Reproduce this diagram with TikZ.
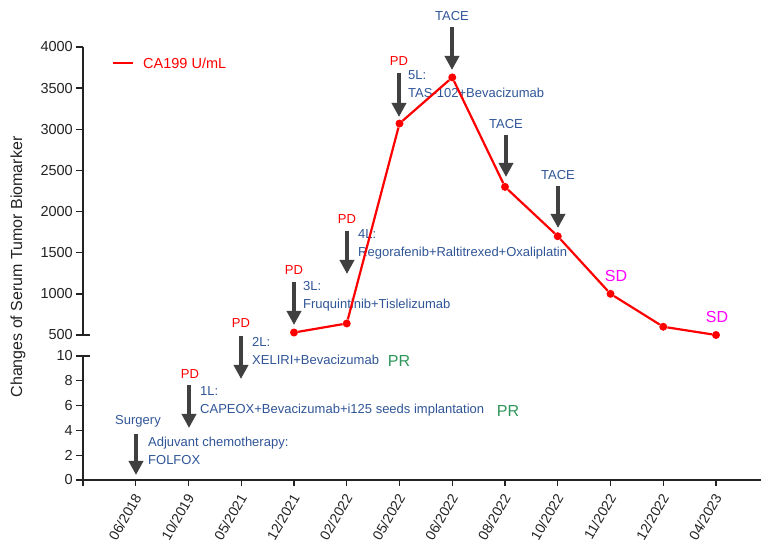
\documentclass[tikz,border=0pt]{standalone}
\usepackage{fontspec}
\setmainfont{Liberation Sans}
\usepackage{xcolor}
\usetikzlibrary{arrows.meta}

\definecolor{txtblue}{RGB}{47,85,151}
\definecolor{prgreen}{RGB}{46,150,90}
\definecolor{sdmag}{RGB}{255,0,255}
\definecolor{arrgray}{RGB}{64,64,64}
\definecolor{axgray}{RGB}{35,35,35}

\begin{document}
\begin{tikzpicture}[x=1pt,y=1pt,
    axisline/.style={axgray,line width=1.3pt},
    ticklbl/.style={font=\fontsize{14.5}{16}\selectfont,anchor=east,inner sep=0pt,text=axgray},
    datelbl/.style={font=\fontsize{14}{16}\selectfont,rotate=60,anchor=east,inner sep=0pt,text=axgray},
    treat/.style={font=\fontsize{13}{18}\selectfont,text=txtblue,align=left,anchor=west,inner sep=0pt},
    pdlbl/.style={font=\fontsize{13}{14}\selectfont,text=red,inner sep=0pt},
    tacelbl/.style={font=\fontsize{13}{14}\selectfont,text=txtblue,inner sep=0pt},
    resp/.style={font=\fontsize{16}{18}\selectfont,inner sep=0pt},
    bigarrow/.style={arrgray,line width=3.5pt,-{Triangle[width=14pt,length=14pt]}},
    dot/.style={circle,fill=red,inner sep=0pt,minimum size=8pt}]
    \useasboundingbox (0,0) rectangle (761,544);

    % axes with break
    \draw[axisline] (83,497)--(83,209);
    \draw[axisline] (76,209)--(90,209);
    \draw[axisline] (76,188)--(90,188);
    \draw[axisline] (83,188)--(83,64)--(761,64);
    \draw[axisline] (83,64)--(83,58);

    \foreach \v in {500,1000,...,4000} {
        \draw[axisline] (76,{209+(\v-500)*0.08229})--(83,{209+(\v-500)*0.08229});
        \node[ticklbl] at (73,{209+(\v-500)*0.08229}) {\v};
    }
    \foreach \v in {0,2,...,10} {
        \draw[axisline] (76,{64+12.4*\v})--(83,{64+12.4*\v});
        \node[ticklbl] at (73,{64+12.4*\v}) {\v};
    }
    \foreach \d [count=\i] in {06/2018,10/2019,05/2021,12/2021,02/2022,05/2022,
                               06/2022,08/2022,10/2022,11/2022,12/2022,04/2023} {
        \draw[axisline] ({83+52.75*\i},64)--({83+52.75*\i},58);
        \node[datelbl] (date\i) at ({85+52.75*\i},49) {\d};
    }

    \node[rotate=90,font=\fontsize{16}{18}\selectfont,text=axgray] (ylab) at (18,277)
        {Changes of Serum Tumor Biomarker};

    % legend
    \node[anchor=west,inner sep=0pt,text=red,font=\fontsize{14.5}{16}\selectfont] (leg) at (143,481) {CA199 U/mL};
    \coordinate (legl) at (113,481);
    \draw[red,line width=1.5pt] (legl)--++(20,0);

    % treatment lines
    \node[tacelbl] (surg) at (138,123) {Surgery};
    \node[treat] (adj) at (148,93.5) {Adjuvant chemotherapy:\\FOLFOX};
    \coordinate (a0s) at (136,110);
    \coordinate (a0e) at (136,69);
    \draw[bigarrow] (a0s)--(a0e);

    \node[pdlbl] (pd1) at (190,170) {PD};
    \node[treat] (l1) at (200,143) {1L:\\CAPEOX+Bevacizumab+i125 seeds implantation};
    \node[resp,text=prgreen] (pr1) at (508,133) {PR};
    \coordinate (a1s) at (189,159);
    \coordinate (a1e) at (189,116);
    \draw[bigarrow] (a1s)--(a1e);

    \node[pdlbl] (pd2) at (241,221) {PD};
    \node[treat] (l2) at (252,193) {2L:\\XELIRI+Bevacizumab};
    \node[resp,text=prgreen] (pr2) at (399,183) {PR};
    \coordinate (a2s) at (241,208);
    \coordinate (a2e) at (241,165);
    \draw[bigarrow] (a2s)--(a2e);

    \node[pdlbl] (pd3) at (294,274) {PD};
    \node[treat] (l3) at (303,247.5) {3L:\\Fruquintinib+Tislelizumab};
    \coordinate (a3s) at (294,262);
    \coordinate (a3e) at (294,219);
    \draw[bigarrow] (a3s)--(a3e);

    \node[pdlbl] (pd4) at (347,325) {PD};
    \node[treat] (l4) at (358,299.5) {4L:\\Regorafenib+Raltitrexed+Oxaliplatin};
    \coordinate (a4s) at (347,313);
    \coordinate (a4e) at (347,270);
    \draw[bigarrow] (a4s)--(a4e);

    \node[pdlbl] (pd5) at (399,483) {PD};
    \node[treat] (l5) at (408,459.5) {5L:\\TAS-102+Bevacizumab};
    \coordinate (a5s) at (399,471);
    \coordinate (a5e) at (399,427);
    \draw[bigarrow] (a5s)--(a5e);

    \node[tacelbl] (tace1) at (452,528) {TACE};
    \coordinate (t1s) at (452,517);
    \coordinate (t1e) at (452,474);
    \draw[bigarrow] (t1s)--(t1e);

    \node[tacelbl] (tace2) at (506,420) {TACE};
    \coordinate (t2s) at (506,409);
    \coordinate (t2e) at (506,367);
    \draw[bigarrow] (t2s)--(t2e);

    \node[tacelbl] (tace3) at (558,369) {TACE};
    \coordinate (t3s) at (558,358);
    \coordinate (t3e) at (558,316);
    \draw[bigarrow] (t3s)--(t3e);

    \node[resp,text=sdmag] (sd1) at (616,268) {SD};
    \node[resp,text=sdmag] (sd2) at (717,227) {SD};

    % CA199 curve
    \begin{scope}[x=52.75pt,y=0.08229pt,shift={(83pt,167.86pt)}]
        \foreach \i/\v in {4/530,5/640,6/3070,7/3630,8/2300,9/1700,10/1000,11/600,12/500}
            \node[dot] (d\i) at (\i,\v) {};
        \draw[red,line width=2.2pt] (d4)--(d5)--(d6)--(d7)--(d8)--(d9)--(d10)--(d11)--(d12);
    \end{scope}
\end{tikzpicture}
\end{document}
